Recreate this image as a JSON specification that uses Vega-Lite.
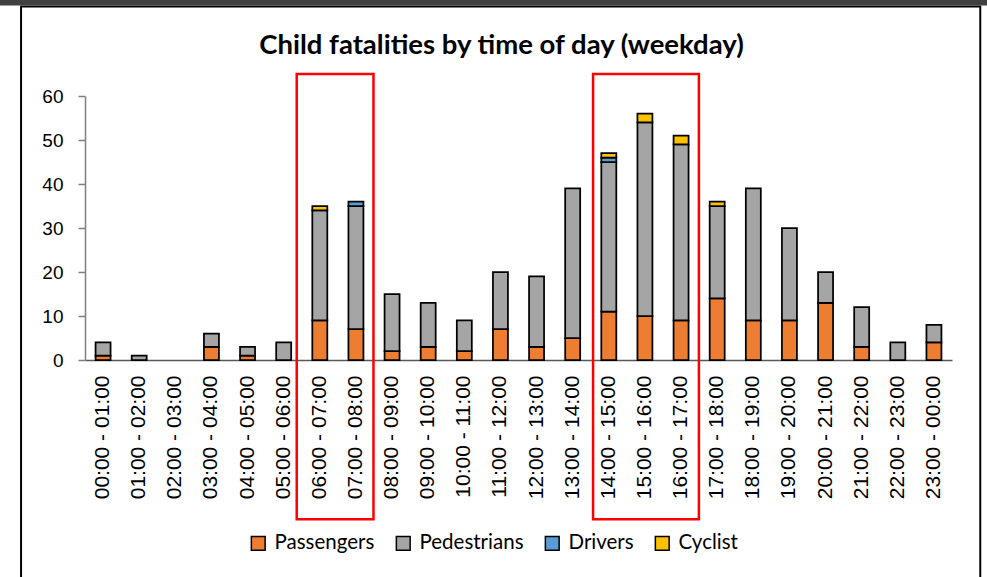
{
  "$schema": "https://vega.github.io/schema/vega-lite/v6.json",
  "width": 867,
  "height": 264,
  "autosize": {"type": "none"},
  "padding": {"left": 85, "top": 96, "right": 35, "bottom": 217},
  "background": "white",
  "title": {
    "text": "Child fatalities by time of day (weekday)",
    "font": "Lato",
    "fontSize": 27.5,
    "fontWeight": "bold",
    "color": "#000000",
    "anchor": "middle",
    "baseline": "alphabetic",
    "dx": -17,
    "offset": -84
  },
  "config": {
    "view": {"stroke": null},
    "axis": {"grid": false, "title": null, "labelFont": "Liberation Sans", "labelColor": "#000000", "domainColor": "#7f7f7f", "domainWidth": 1.5, "tickColor": "#7f7f7f", "tickWidth": 1.5}
  },
  "data": {
    "values": [
      {"hour": "00:00 - 01:00", "type": "Passengers", "n": 1},
      {"hour": "00:00 - 01:00", "type": "Pedestrians", "n": 3},
      {"hour": "01:00 - 02:00", "type": "Pedestrians", "n": 1},
      {"hour": "03:00 - 04:00", "type": "Passengers", "n": 3},
      {"hour": "03:00 - 04:00", "type": "Pedestrians", "n": 3},
      {"hour": "04:00 - 05:00", "type": "Passengers", "n": 1},
      {"hour": "04:00 - 05:00", "type": "Pedestrians", "n": 2},
      {"hour": "05:00 - 06:00", "type": "Pedestrians", "n": 4},
      {"hour": "06:00 - 07:00", "type": "Passengers", "n": 9},
      {"hour": "06:00 - 07:00", "type": "Pedestrians", "n": 25},
      {"hour": "06:00 - 07:00", "type": "Cyclist", "n": 1},
      {"hour": "07:00 - 08:00", "type": "Passengers", "n": 7},
      {"hour": "07:00 - 08:00", "type": "Pedestrians", "n": 28},
      {"hour": "07:00 - 08:00", "type": "Drivers", "n": 1},
      {"hour": "08:00 - 09:00", "type": "Passengers", "n": 2},
      {"hour": "08:00 - 09:00", "type": "Pedestrians", "n": 13},
      {"hour": "09:00 - 10:00", "type": "Passengers", "n": 3},
      {"hour": "09:00 - 10:00", "type": "Pedestrians", "n": 10},
      {"hour": "10:00 - 11:00", "type": "Passengers", "n": 2},
      {"hour": "10:00 - 11:00", "type": "Pedestrians", "n": 7},
      {"hour": "11:00 - 12:00", "type": "Passengers", "n": 7},
      {"hour": "11:00 - 12:00", "type": "Pedestrians", "n": 13},
      {"hour": "12:00 - 13:00", "type": "Passengers", "n": 3},
      {"hour": "12:00 - 13:00", "type": "Pedestrians", "n": 16},
      {"hour": "13:00 - 14:00", "type": "Passengers", "n": 5},
      {"hour": "13:00 - 14:00", "type": "Pedestrians", "n": 34},
      {"hour": "14:00 - 15:00", "type": "Passengers", "n": 11},
      {"hour": "14:00 - 15:00", "type": "Pedestrians", "n": 34},
      {"hour": "14:00 - 15:00", "type": "Drivers", "n": 1},
      {"hour": "14:00 - 15:00", "type": "Cyclist", "n": 1},
      {"hour": "15:00 - 16:00", "type": "Passengers", "n": 10},
      {"hour": "15:00 - 16:00", "type": "Pedestrians", "n": 44},
      {"hour": "15:00 - 16:00", "type": "Cyclist", "n": 2},
      {"hour": "16:00 - 17:00", "type": "Passengers", "n": 9},
      {"hour": "16:00 - 17:00", "type": "Pedestrians", "n": 40},
      {"hour": "16:00 - 17:00", "type": "Cyclist", "n": 2},
      {"hour": "17:00 - 18:00", "type": "Passengers", "n": 14},
      {"hour": "17:00 - 18:00", "type": "Pedestrians", "n": 21},
      {"hour": "17:00 - 18:00", "type": "Cyclist", "n": 1},
      {"hour": "18:00 - 19:00", "type": "Passengers", "n": 9},
      {"hour": "18:00 - 19:00", "type": "Pedestrians", "n": 30},
      {"hour": "19:00 - 20:00", "type": "Passengers", "n": 9},
      {"hour": "19:00 - 20:00", "type": "Pedestrians", "n": 21},
      {"hour": "20:00 - 21:00", "type": "Passengers", "n": 13},
      {"hour": "20:00 - 21:00", "type": "Pedestrians", "n": 7},
      {"hour": "21:00 - 22:00", "type": "Passengers", "n": 3},
      {"hour": "21:00 - 22:00", "type": "Pedestrians", "n": 9},
      {"hour": "22:00 - 23:00", "type": "Pedestrians", "n": 4},
      {"hour": "23:00 - 00:00", "type": "Passengers", "n": 4},
      {"hour": "23:00 - 00:00", "type": "Pedestrians", "n": 4}
    ]
  },
  "layer": [
    {
      "transform": [
        {"calculate": "indexof(['Passengers', 'Pedestrians', 'Drivers', 'Cyclist'], datum.type)", "as": "stackOrder"}
      ],
      "mark": {"type": "bar", "stroke": "#000000", "strokeWidth": 1.75},
      "encoding": {
        "x": {
          "field": "hour",
          "type": "nominal",
          "scale": {
            "domain": ["00:00 - 01:00", "01:00 - 02:00", "02:00 - 03:00", "03:00 - 04:00", "04:00 - 05:00", "05:00 - 06:00", "06:00 - 07:00", "07:00 - 08:00", "08:00 - 09:00", "09:00 - 10:00", "10:00 - 11:00", "11:00 - 12:00", "12:00 - 13:00", "13:00 - 14:00", "14:00 - 15:00", "15:00 - 16:00", "16:00 - 17:00", "17:00 - 18:00", "18:00 - 19:00", "19:00 - 20:00", "20:00 - 21:00", "21:00 - 22:00", "22:00 - 23:00", "23:00 - 00:00"],
            "paddingInner": 0.585,
            "paddingOuter": 0.2925
          },
          "axis": {"labelAngle": -90, "labelFontSize": 21, "ticks": false, "labelPadding": 15, "domainColor": "#595959"}
        },
        "y": {
          "field": "n",
          "type": "quantitative",
          "stack": "zero",
          "scale": {"domain": [0, 60], "nice": false},
          "axis": {"values": [0, 10, 20, 30, 40, 50, 60], "tickSize": 7, "labelFontSize": 19, "labelPadding": 15}
        },
        "order": {"field": "stackOrder", "type": "quantitative", "sort": "ascending"},
        "color": {
          "field": "type",
          "type": "nominal",
          "sort": ["Passengers", "Pedestrians", "Drivers", "Cyclist"],
          "scale": {"domain": ["Passengers", "Pedestrians", "Drivers", "Cyclist"], "range": ["#ED7D31", "#A5A5A5", "#5B9BD5", "#FFC000"]},
          "legend": {
            "title": null,
            "orient": "none",
            "direction": "horizontal",
            "legendX": 163,
            "legendY": 437,
            "symbolType": "square",
            "symbolSize": 190,
            "symbolStrokeColor": "#000000",
            "symbolStrokeWidth": 1.5,
            "symbolOpacity": 1,
            "labelFont": "Lato",
            "labelFontSize": 20.5,
            "labelColor": "#000000",
            "labelOffset": 6,
            "columnPadding": 18
          }
        }
      }
    },
    {
      "data": {"values": [{"a": "06:00 - 07:00", "b": "08:00 - 09:00"}]},
      "mark": {"type": "rect", "fill": null, "stroke": "#FF0000", "strokeWidth": 2.5, "clip": false},
      "encoding": {
        "x": {"field": "a", "type": "nominal", "bandPosition": -1.04},
        "x2": {"field": "b", "bandPosition": -0.74},
        "y": {"datum": 65, "type": "quantitative"},
        "y2": {"datum": -36.2}
      }
    },
    {
      "data": {"values": [{"a": "14:00 - 15:00", "b": "17:00 - 18:00"}]},
      "mark": {"type": "rect", "fill": null, "stroke": "#FF0000", "strokeWidth": 2.5, "clip": false},
      "encoding": {
        "x": {"field": "a", "type": "nominal", "bandPosition": -0.55},
        "x2": {"field": "b", "bandPosition": -0.72},
        "y": {"datum": 65, "type": "quantitative"},
        "y2": {"datum": -36.2}
      }
    },
    {
      "data": {"values": [{"a": "00:00 - 01:00", "b": "23:00 - 00:00"}]},
      "mark": {"type": "rect", "fill": null, "stroke": "#000000", "strokeWidth": 2, "clip": false},
      "encoding": {
        "x": {"field": "a", "type": "nominal", "bandPosition": -4.97},
        "x2": {"field": "b", "bandPosition": 3.59},
        "y": {"datum": 80.34, "type": "quantitative"},
        "y2": {"datum": -60}
      }
    },
    {
      "data": {"values": [{"a": "00:00 - 01:00", "b": "23:00 - 00:00"}]},
      "mark": {"type": "rect", "fill": "#404040", "stroke": null, "clip": false},
      "encoding": {
        "x": {"field": "a", "type": "nominal", "bandPosition": -6.5},
        "x2": {"field": "b", "bandPosition": 4.2},
        "y": {"datum": 82.5, "type": "quantitative"},
        "y2": {"datum": 80.57}
      }
    }
  ]
}
